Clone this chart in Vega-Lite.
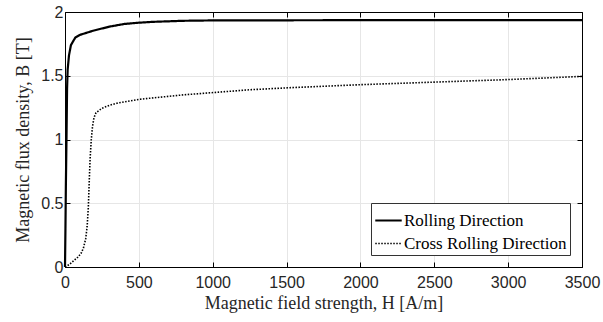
{
  "$schema": "https://vega.github.io/schema/vega-lite/v6.json",
  "width": 517,
  "height": 255,
  "autosize": "none",
  "padding": {"left": 65, "top": 12, "right": 21, "bottom": 55},
  "background": "white",
  "config": {
    "view": {"stroke": "black", "strokeWidth": 1},
    "axis": {
      "labelFont": "Liberation Sans",
      "labelFontSize": 16,
      "labelColor": "#262626",
      "labelFlush": false,
      "titleFont": "Liberation Serif",
      "titleFontSize": 18,
      "titleFontWeight": "normal",
      "titleColor": "#262626",
      "domainColor": "black",
      "tickColor": "black",
      "tickSize": -5,
      "gridColor": "#e6e6e6",
      "gridWidth": 1
    },
    "legend": {
      "labelFont": "Liberation Serif",
      "labelFontSize": 17,
      "labelColor": "black",
      "labelLimit": 400
    }
  },
  "datasets": {
    "curves": [
      {"H": 0, "B": 0, "series": "Rolling Direction"},
      {"H": 3, "B": 0.3, "series": "Rolling Direction"},
      {"H": 6, "B": 0.65, "series": "Rolling Direction"},
      {"H": 10, "B": 1.0, "series": "Rolling Direction"},
      {"H": 14, "B": 1.4, "series": "Rolling Direction"},
      {"H": 18, "B": 1.55, "series": "Rolling Direction"},
      {"H": 27, "B": 1.66, "series": "Rolling Direction"},
      {"H": 40, "B": 1.74, "series": "Rolling Direction"},
      {"H": 70, "B": 1.8, "series": "Rolling Direction"},
      {"H": 100, "B": 1.82, "series": "Rolling Direction"},
      {"H": 190, "B": 1.853, "series": "Rolling Direction"},
      {"H": 300, "B": 1.885, "series": "Rolling Direction"},
      {"H": 400, "B": 1.906, "series": "Rolling Direction"},
      {"H": 500, "B": 1.916, "series": "Rolling Direction"},
      {"H": 600, "B": 1.923, "series": "Rolling Direction"},
      {"H": 800, "B": 1.931, "series": "Rolling Direction"},
      {"H": 1000, "B": 1.934, "series": "Rolling Direction"},
      {"H": 2000, "B": 1.936, "series": "Rolling Direction"},
      {"H": 3500, "B": 1.937, "series": "Rolling Direction"},
      {"H": 0, "B": 0, "series": "Cross Rolling Direction"},
      {"H": 30, "B": 0.02, "series": "Cross Rolling Direction"},
      {"H": 60, "B": 0.05, "series": "Cross Rolling Direction"},
      {"H": 90, "B": 0.08, "series": "Cross Rolling Direction"},
      {"H": 110, "B": 0.11, "series": "Cross Rolling Direction"},
      {"H": 125, "B": 0.15, "series": "Cross Rolling Direction"},
      {"H": 140, "B": 0.22, "series": "Cross Rolling Direction"},
      {"H": 150, "B": 0.32, "series": "Cross Rolling Direction"},
      {"H": 158, "B": 0.47, "series": "Cross Rolling Direction"},
      {"H": 165, "B": 0.7, "series": "Cross Rolling Direction"},
      {"H": 170, "B": 0.85, "series": "Cross Rolling Direction"},
      {"H": 178, "B": 1.0, "series": "Cross Rolling Direction"},
      {"H": 186, "B": 1.1, "series": "Cross Rolling Direction"},
      {"H": 196, "B": 1.17, "series": "Cross Rolling Direction"},
      {"H": 210, "B": 1.21, "series": "Cross Rolling Direction"},
      {"H": 250, "B": 1.245, "series": "Cross Rolling Direction"},
      {"H": 300, "B": 1.268, "series": "Cross Rolling Direction"},
      {"H": 350, "B": 1.284, "series": "Cross Rolling Direction"},
      {"H": 500, "B": 1.315, "series": "Cross Rolling Direction"},
      {"H": 800, "B": 1.35, "series": "Cross Rolling Direction"},
      {"H": 1250, "B": 1.39, "series": "Cross Rolling Direction"},
      {"H": 1500, "B": 1.405, "series": "Cross Rolling Direction"},
      {"H": 2000, "B": 1.43, "series": "Cross Rolling Direction"},
      {"H": 2500, "B": 1.45, "series": "Cross Rolling Direction"},
      {"H": 3000, "B": 1.47, "series": "Cross Rolling Direction"},
      {"H": 3500, "B": 1.495, "series": "Cross Rolling Direction"}
    ]
  },
  "data": {"name": "curves"},
  "resolve": {"axis": {"x": "independent", "y": "independent"}},
  "layer": [
    {
      "mark": {"type": "line", "color": "black", "strokeCap": "butt"},
      "encoding": {
        "x": {
          "field": "H", "type": "quantitative",
          "scale": {"domain": [0, 3500], "nice": false},
          "axis": {"orient": "bottom", "values": [0, 500, 1000, 1500, 2000, 2500, 3000, 3500], "format": "d", "title": "Magnetic field strength, H [A/m]", "labelPadding": 12, "titlePadding": 4}
        },
        "y": {
          "field": "B", "type": "quantitative",
          "scale": {"domain": [0, 2], "nice": false},
          "axis": {"orient": "left", "values": [0, 0.5, 1, 1.5, 2], "format": "~g", "title": "Magnetic flux density, B [T]", "labelPadding": 7, "titlePadding": 8}
        },
        "detail": {"field": "series"},
        "strokeDash": {
          "field": "series", "type": "nominal",
          "scale": {"domain": ["Rolling Direction", "Cross Rolling Direction"], "range": [[1, 0], [1.5, 1.5]]},
          "legend": {
            "title": null,
            "orient": "bottom-right",
            "offset": 12,
            "strokeColor": "#333333",
            "fillColor": "white",
            "padding": 3,
            "symbolType": "stroke",
            "symbolSize": 700,
            "symbolStrokeWidth": 1.5,
            "symbolStrokeColor": "black",
            "labelFont": "Liberation Serif",
            "labelFontSize": 17,
            "labelLimit": 400,
            "labelOffset": 1,
            "rowPadding": 0
          }
        },
        "strokeWidth": {
          "field": "series", "type": "nominal",
          "scale": {"domain": ["Rolling Direction", "Cross Rolling Direction"], "range": [2.2, 1.6]},
          "legend": null
        }
      }
    },
    {
      "mark": {"type": "point", "opacity": 0},
      "encoding": {
        "x": {
          "field": "H", "type": "quantitative",
          "axis": {"orient": "top", "values": [0, 500, 1000, 1500, 2000, 2500, 3000, 3500], "labels": false, "title": null, "grid": false}
        },
        "y": {
          "field": "B", "type": "quantitative",
          "axis": {"orient": "right", "values": [0, 0.5, 1, 1.5, 2], "labels": false, "title": null, "grid": false}
        }
      }
    }
  ]
}
